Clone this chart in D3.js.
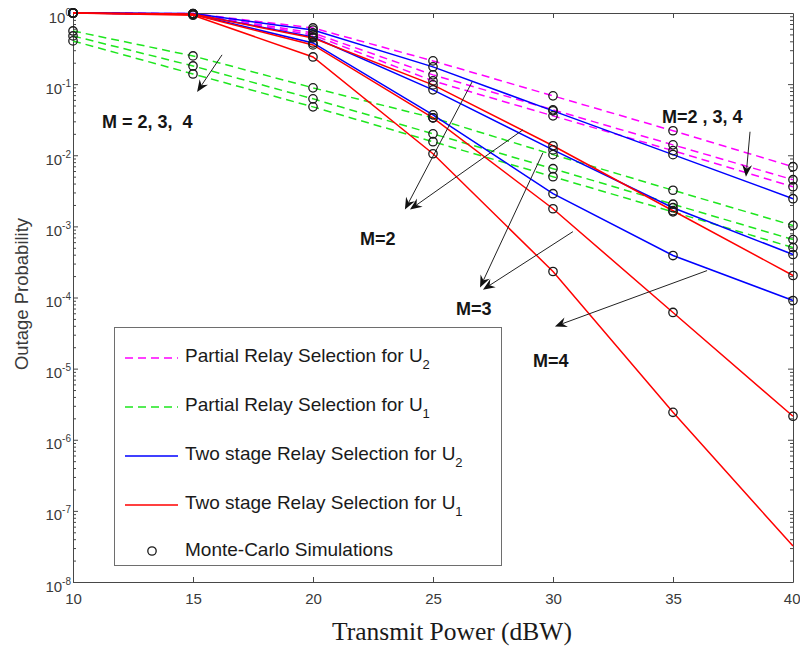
<!DOCTYPE html>
<html>
<head>
<meta charset="utf-8">
<script src="https://cdn.jsdelivr.net/npm/d3@7"></script>
<style>
  body { margin: 0; background: #fff; }
  svg { display: block; }
  .pre { white-space: pre; }
</style>
</head>
<body>
<svg id="chart" width="800" height="652"></svg>
<script>
// Transmit power grid (dBW) and numbers of relays
const powerDb = [10, 15, 20, 25, 30, 35, 40];
const relayCounts = [2, 3, 4];

// Outage probability, one row per relay count (M = 2, 3, 4)
const partialU2 = [
  [1, 0.98, 0.616, 0.212, 0.0684, 0.0221, 0.0069],
  [1, 0.97, 0.524, 0.135, 0.0435, 0.0140, 0.00453],
  [1, 0.96, 0.491, 0.111, 0.0358, 0.0116, 0.00361]
];
const partialU1 = [
  [0.559, 0.249, 0.0886, 0.0336, 0.0102, 0.00322, 0.00103],
  [0.476, 0.180, 0.0621, 0.0200, 0.00647, 0.00205, 0.000652],
  [0.405, 0.139, 0.0479, 0.0155, 0.00499, 0.00160, 0.000503]
];
const twoStageU2 = [
  [1, 0.98, 0.577, 0.175, 0.0421, 0.0102, 0.00245],
  [1, 0.97, 0.460, 0.0831, 0.0119, 0.00183, 0.000402],
  [1, 0.96, 0.379, 0.0370, 0.00288, 0.000389, 0.0000908]
];
const twoStageU1 = [
  [1, 0.97, 0.446, 0.0976, 0.0136, 0.00166, 0.000204],
  [1, 0.95, 0.356, 0.0336, 0.00177, 0.0000616, 0.00000214],
  [1, 0.93, 0.241, 0.0105, 0.000232, 0.00000243, 0.000000032]
];
// Simulation points that were not plotted
const simOmitted = [{ group: "twoStageU1", relays: 4, power: 40 }];

// Axis ticks
const xTicks = [10, 15, 20, 25, 30, 35, 40];
const yExponents = [0, -1, -2, -3, -4, -5, -6, -7, -8];

// Legend entries (label, subscript)
const legendLabels = [
  ["Partial Relay Selection for U", "2"],
  ["Partial Relay Selection for U", "1"],
  ["Two stage Relay Selection for U", "2"],
  ["Two stage Relay Selection for U", "1"],
  ["Monte-Carlo Simulations", ""]
];

// Annotation arrows: [power, probability] start -> end (arrow tip)
const arrowStarts = [[16.21, 0.258], [38.21, 0.0214], [26.63, 0.1076], [28.75, 0.0228], [29.58, 0.01084], [30.83, 0.000843], [36.42, 0.000239]];
const arrowEnds   = [[15.17, 0.0778], [38.04, 0.00499], [23.83, 0.00172], [24.04, 0.00172], [26.96, 0.000138], [27.08, 0.000129], [30.08, 0.0000392]];
// Annotation labels: text and [power, probability] of the baseline start
const noteTexts = ["M = 2, 3,  4", "M=2 , 3, 4", "M=2", "M=3", "M=4"];
const notePositions = [[11.21, 0.0243], [34.54, 0.0286], [21.96, 0.00054], [25.96, 0.0000575], [29.17, 0.0000107]];

const svg = d3.select("#chart");
const plot = { left: 73, right: 793, top: 13, bottom: 582 };

const x = d3.scaleLinear().domain([10, 40]).range([plot.left, plot.right]);
const y = d3.scaleLog().domain([1e-8, 1]).range([plot.bottom, plot.top]);

const axisColor = "#474747";
const labelColor = "#3a3a3a";

const majorY = yExponents.map(e => Math.pow(10, e));
const minorY = [];
for (let e = -8; e < 0; e++) for (let k = 2; k <= 9; k++) minorY.push(k * Math.pow(10, e));

function styleAxis(g) {
  g.selectAll("path.domain").attr("stroke", axisColor).attr("stroke-width", 1);
  g.selectAll(".tick line").attr("stroke", axisColor).attr("stroke-width", 1);
}

// Bottom axis with labels
const gx = svg.append("g").attr("transform", `translate(0,${plot.bottom})`)
  .call(d3.axisBottom(x).tickValues(xTicks).tickSize(-5).tickSizeOuter(0).tickPadding(11).tickFormat(d3.format("d")));
gx.selectAll("text").attr("font-family", "Liberation Sans, Arial, sans-serif").attr("font-size", 15).attr("fill", labelColor);
// keep the last label inside the page edge
gx.selectAll(".tick text").filter(d => d === xTicks[xTicks.length - 1]).attr("text-anchor", "end").attr("x", 7);
styleAxis(gx);

// Top box edge
const gxt = svg.append("g").attr("transform", `translate(0,${plot.top})`)
  .call(d3.axisTop(x).tickValues(xTicks.slice(1, -1)).tickSize(-5).tickSizeOuter(0).tickFormat(""));
styleAxis(gxt);

// Left axis: major ticks with powers-of-ten labels
const gy = svg.append("g").attr("transform", `translate(${plot.left},0)`)
  .call(d3.axisLeft(y).tickValues(majorY).tickSize(-5).tickSizeOuter(0).tickPadding(2).tickFormat(""));
gy.selectAll(".tick text").each(function (d) {
  const t = d3.select(this);
  t.attr("dy", "0.6em").attr("font-family", "Liberation Sans, Arial, sans-serif")
    .attr("font-size", 15).attr("fill", labelColor);
  t.append("tspan").text("10");
  t.append("tspan").attr("dy", -7).attr("font-size", 10).text(Math.round(Math.log10(d)));
});
styleAxis(gy);
const gyMinor = svg.append("g").attr("transform", `translate(${plot.left},0)`)
  .call(d3.axisLeft(y).tickValues(minorY).tickSize(-3).tickSizeOuter(0).tickFormat(""));
gyMinor.select("path.domain").remove();
styleAxis(gyMinor);

// Right box edge with ticks
const gyr = svg.append("g").attr("transform", `translate(${plot.right},0)`)
  .call(d3.axisRight(y).tickValues(majorY).tickSize(-5).tickSizeOuter(0).tickFormat(""));
styleAxis(gyr);
const gyrMinor = svg.append("g").attr("transform", `translate(${plot.right},0)`)
  .call(d3.axisRight(y).tickValues(minorY).tickSize(-3).tickSizeOuter(0).tickFormat(""));
gyrMinor.select("path.domain").remove();
styleAxis(gyrMinor);

// Axis titles
svg.append("text")
  .attr("x", 452).attr("y", 640)
  .attr("text-anchor", "middle")
  .attr("font-family", "Liberation Serif, Times New Roman, serif")
  .attr("font-size", 25.5).attr("fill", "#1a1a1a")
  .text("Transmit Power (dBW)");
svg.append("text")
  .attr("transform", "translate(28,294) rotate(-90)")
  .attr("text-anchor", "middle")
  .attr("font-family", "Liberation Sans, Arial, sans-serif")
  .attr("font-size", 18.5).attr("fill", labelColor)
  .text("Outage Probability");

// Curves
const groups = [
  { name: "partialU2", values: partialU2, color: "#ff00ff", dash: "8,5" },
  { name: "partialU1", values: partialU1, color: "#1ee61e", dash: "8,5" },
  { name: "twoStageU2", values: twoStageU2, color: "#0000ff", dash: null },
  { name: "twoStageU1", values: twoStageU1, color: "#ff0000", dash: null }
];

const line = d3.line().x(d => x(d.p)).y(d => y(d.v));
const curves = svg.append("g");
const sims = [];
groups.forEach(g => {
  g.values.forEach((row, i) => {
    const pts = row.map((v, j) => ({ p: powerDb[j], v }));
    curves.append("path")
      .datum(pts)
      .attr("d", line)
      .attr("fill", "none")
      .attr("stroke", g.color)
      .attr("stroke-width", 1.5)
      .attr("stroke-dasharray", g.dash);
    pts.forEach(pt => {
      const skip = simOmitted.some(o => o.group === g.name && o.relays === relayCounts[i] && o.power === pt.p);
      if (!skip) sims.push(pt);
    });
  });
});

// Monte-Carlo markers
svg.append("g").selectAll("circle").data(sims).join("circle")
  .attr("cx", d => x(d.p)).attr("cy", d => y(d.v)).attr("r", 4.2)
  .attr("fill", "none").attr("stroke", "#1a1a1a").attr("stroke-width", 1.3);

// Annotation arrows
const arrows = svg.append("g");
arrowStarts.forEach((s, i) => {
  const e = arrowEnds[i];
  const x0 = x(s[0]), y0 = y(s[1]), x1 = x(e[0]), y1 = y(e[1]);
  const ang = Math.atan2(y1 - y0, x1 - x0);
  const len = 12, half = 5, notch = 8;
  const ux = Math.cos(ang), uy = Math.sin(ang);
  const bx = x1 - ux * len, by = y1 - uy * len;
  const nx = x1 - ux * notch, ny = y1 - uy * notch;
  arrows.append("line")
    .attr("x1", x0).attr("y1", y0).attr("x2", nx).attr("y2", ny)
    .attr("stroke", "#222").attr("stroke-width", 1);
  arrows.append("path")
    .attr("d", `M${x1},${y1}L${bx - uy * half},${by + ux * half}L${nx},${ny}L${bx + uy * half},${by - ux * half}Z`)
    .attr("fill", "#111");
});

// Annotation labels
svg.append("g").selectAll("text").data(noteTexts).join("text")
  .attr("class", "pre")
  .attr("x", (d, i) => x(notePositions[i][0]))
  .attr("y", (d, i) => y(notePositions[i][1]))
  .attr("font-family", "Liberation Sans, Arial, sans-serif")
  .attr("font-weight", "bold").attr("font-size", 18).attr("fill", "#151515")
  .text(d => d);

// Legend
const legend = svg.append("g");
legend.append("rect")
  .attr("x", 114.5).attr("y", 327.5).attr("width", 387).attr("height", 238)
  .attr("fill", "#fff").attr("stroke", "#6e6e6e").attr("stroke-width", 1);
const rowY = [358, 407, 456, 505, 551];
legendLabels.forEach((lab, i) => {
  const ry = rowY[i];
  if (i < 4) {
    legend.append("line")
      .attr("x1", 125).attr("x2", 178).attr("y1", ry).attr("y2", ry)
      .attr("stroke", groups[i].color)
      .attr("stroke-width", 1.5)
      .attr("stroke-dasharray", groups[i].dash);
  } else {
    legend.append("circle").attr("cx", 152).attr("cy", ry).attr("r", 4.2)
      .attr("fill", "none").attr("stroke", "#1a1a1a").attr("stroke-width", 1.3);
  }
  const t = legend.append("text")
    .attr("x", 185).attr("y", ry + (i < 4 ? 4 : 5))
    .attr("font-family", "Liberation Sans, Arial, sans-serif")
    .attr("font-size", 19).attr("fill", "#1a1a1a");
  t.append("tspan").text(lab[0]);
  if (lab[1]) t.append("tspan").attr("dy", 7).attr("font-size", 13).text(lab[1]);
});
</script>
</body>
</html>
